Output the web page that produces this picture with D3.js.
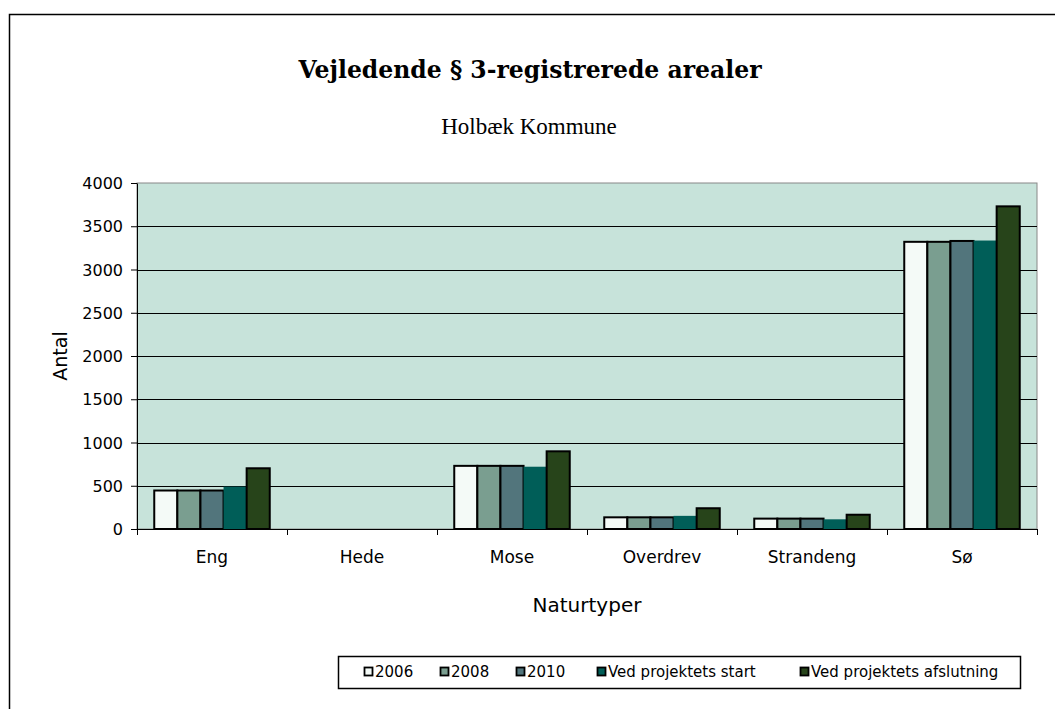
<!DOCTYPE html>
<html>
<head>
<meta charset="utf-8">
<script src="https://cdn.jsdelivr.net/npm/d3@7"></script>
<style>
  body { margin: 0; background: #fff; }
  svg { display: block; }
</style>
</head>
<body>
<svg id="chart" width="1055" height="709"></svg>
<script>
const categories = ["Eng", "Hede", "Mose", "Overdrev", "Strandeng", "Sø"]
const seriesNames = ["2006", "2008", "2010", "Ved projektets start", "Ved projektets afslutning"]
const seriesColors = ["#f4faf7", "#7a9e90", "#52757c", "#005e58", "#27441a"]
const v2006 = [445, 0, 730, 135, 120, 3320]
const v2008 = [445, 0, 730, 135, 120, 3320]
const v2010 = [445, 0, 730, 135, 120, 3330]
const vStart = [490, 0, 720, 152, 112, 3335]
const vEnd = [702, 0, 898, 240, 165, 3730]
const yTicks = [0, 500, 1000, 1500, 2000, 2500, 3000, 3500, 4000]

const series = [v2006, v2008, v2010, vStart, vEnd]
const sans = "'DejaVu Sans', Arial, sans-serif"
const svg = d3.select("#chart")
const margin = { top: 183, right: 18, bottom: 180, left: 137 }
const W = 1055, H = 709
const plotW = W - margin.left - margin.right
const plotH = H - margin.top - margin.bottom

// outer frame
svg.append("rect").attr("x", 9.5).attr("y", 14.5).attr("width", W).attr("height", H)
  .attr("fill", "none").attr("stroke", "#000").attr("stroke-width", 1.5)

svg.append("text").attr("x", 530).attr("y", 78).attr("text-anchor", "middle")
  .style("font-family", "'DejaVu Serif', serif").style("font-weight", "bold").style("font-size", "23.5px")
  .text("Vejledende § 3-registrerede arealer")
svg.append("text").attr("x", 529).attr("y", 134).attr("text-anchor", "middle")
  .style("font-family", "'Liberation Serif', serif").style("font-size", "23px")
  .text("Holbæk Kommune")

const g = svg.append("g").attr("transform", `translate(${margin.left},${margin.top})`)

const x0 = d3.scaleBand().domain(categories).range([0, plotW]).paddingInner(0.23).paddingOuter(0.115)
const x1 = d3.scaleBand().domain(d3.range(series.length)).range([0, x0.bandwidth()])
const y = d3.scaleLinear().domain([0, 4000]).range([plotH, 0])

g.append("rect").attr("width", plotW).attr("height", plotH).attr("fill", "#c7e3da")
  .attr("stroke", "#888").attr("stroke-width", 1)

g.selectAll(".grid").data(yTicks.slice(1, -1)).join("line").attr("class", "grid")
  .attr("x1", 0).attr("x2", plotW).attr("y1", d => Math.round(y(d)) + 0.5).attr("y2", d => Math.round(y(d)) + 0.5)
  .attr("stroke", "#000").attr("stroke-width", 1)

// bars
const groups = g.selectAll(".cat").data(categories).join("g").attr("class", "cat")
  .attr("transform", d => `translate(${x0(d)},0)`)
groups.selectAll("rect").data((d, ci) => series.map((s, si) => ({ si, v: s[ci] }))).join("rect")
  .filter(d => d.v > 0)
  .attr("x", d => x1(d.si)).attr("y", d => y(d.v))
  .attr("width", x1.bandwidth()).attr("height", d => plotH - y(d.v))
  .attr("fill", d => seriesColors[d.si])
  .attr("stroke", d => d.si === 3 ? "none" : "#000").attr("stroke-width", 2)

// axes
const yAxis = g.append("g").call(d3.axisLeft(y).tickValues(yTicks).tickFormat(d3.format("d")).tickSize(6).tickSizeOuter(0))
yAxis.select(".domain").attr("stroke", "#000")
yAxis.selectAll("text").style("font-family", sans).style("font-size", "16px").attr("fill", "#000").attr("dy", "0.35em").attr("x", -14)

const xAxis = g.append("g").attr("transform", `translate(0,${plotH})`)
xAxis.append("line").attr("x1", 0).attr("x2", plotW).attr("y1", 0.5).attr("y2", 0.5).attr("stroke", "#000")
const bounds = d3.range(categories.length + 1).map(i => i * plotW / categories.length)
xAxis.selectAll(".tk").data(bounds).join("line").attr("class", "tk")
  .attr("x1", d => Math.round(d) + 0.5).attr("x2", d => Math.round(d) + 0.5).attr("y1", 0).attr("y2", 6).attr("stroke", "#000")
xAxis.selectAll(".lbl").data(categories).join("text").attr("class", "lbl")
  .attr("x", d => x0(d) + x0.bandwidth() / 2).attr("y", 34).attr("text-anchor", "middle")
  .style("font-family", sans).style("font-size", "17px").text(d => d)

svg.append("text").attr("x", margin.left + plotW / 2).attr("y", 612).attr("text-anchor", "middle")
  .style("font-family", sans).style("font-size", "20px").text("Naturtyper")
svg.append("text").attr("transform", `translate(67,${margin.top + plotH / 2}) rotate(-90)`).attr("text-anchor", "middle")
  .style("font-family", sans).style("font-size", "19px").text("Antal")

// legend
const legend = svg.append("g").attr("transform", "translate(338,656)")
legend.append("rect").attr("x", 0.5).attr("y", 0.5).attr("width", 682).attr("height", 32)
  .attr("fill", "#fff").attr("stroke", "#000").attr("stroke-width", 1.5)
const legendX = [26, 102, 178, 259, 462]
const items = legend.selectAll(".item").data(seriesNames).join("g").attr("class", "item")
  .attr("transform", (d, i) => `translate(${legendX[i]},16)`)
items.append("rect").attr("x", 0.5).attr("y", -4.5).attr("width", 8).attr("height", 8)
  .attr("fill", (d, i) => seriesColors[i]).attr("stroke", "#000").attr("stroke-width", 1.8)
items.append("text").attr("x", 11).attr("y", 0).attr("dy", "0.36em")
  .style("font-family", sans).style("font-size", "15px").text(d => d)
</script>
</body>
</html>
